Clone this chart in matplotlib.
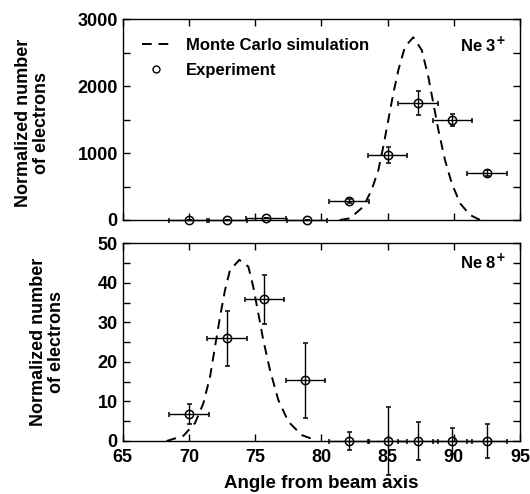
import matplotlib
matplotlib.use("Agg")
import matplotlib.pyplot as plt
from matplotlib.lines import Line2D
from matplotlib.ticker import MultipleLocator

plt.rcParams['font.family'] = ['Liberation Sans', 'DejaVu Sans']
plt.rcParams['font.weight'] = 'bold'

# Ne 3+ : experiment
ne3_angle = [70.0, 72.9, 75.8, 78.9, 82.1, 85.0, 87.3, 89.9, 92.5]
ne3_count = [0, 0, 25, 0, 290, 970, 1750, 1490, 700]
ne3_xerr = [1.5, 1.5, 1.5, 1.5, 1.5, 1.5, 1.5, 1.5, 1.5]
ne3_yerr = [0, 0, 0, 0, 30, 125, 175, 90, 40]

# Ne 3+ : Monte Carlo curve
mc3_angle = [81.4, 82.17, 83.17, 83.8, 84.31, 84.68, 85.06, 85.44, 85.82, 86.32,
             86.95, 87.58, 88.08, 88.46, 88.84, 89.34, 89.85, 90.48, 91.23, 91.99]
mc3_count = [0, 25, 199, 448, 747, 1096, 1495, 1894, 2242, 2591,
             2730, 2541, 2142, 1744, 1345, 897, 548, 249, 75, 0]

# Ne 8+ : experiment
ne8_angle = [70.0, 72.9, 75.7, 78.8, 82.1, 85.0, 87.3, 89.9, 92.5]
ne8_count = [6.8, 26.0, 35.9, 15.3, 0, 0, 0, 0, 0]
ne8_xerr = [1.5, 1.5, 1.5, 1.5, 1.5, 1.5, 1.5, 1.5, 1.5]
ne8_yerr = [2.5, 7.0, 6.2, 9.6, 2.4, 8.5, 4.8, 3.3, 4.2]

# Ne 8+ : Monte Carlo curve
mc8_angle = [68.32, 69.58, 70.46, 71.09, 71.6, 71.97, 72.35, 72.73, 73.1, 73.81,
             74.49, 74.86, 75.24, 75.62, 76.12, 76.75, 77.51, 78.52, 79.65]
mc8_count = [0, 1.3, 4.5, 9.5, 16.3, 23.8, 31.4, 38.2, 43.2, 45.8,
             44.1, 39.0, 32.3, 25.5, 18.0, 10.4, 4.9, 1.5, 0.1]

fig = plt.figure(figsize=(5.3, 4.94), dpi=100)
ax1 = fig.add_axes([0.2315, 0.5547, 0.7495, 0.4063])
ax2 = fig.add_axes([0.2315, 0.1073, 0.7495, 0.4002])

# open circles, error bar lines show through them
ebkw = dict(fmt='o', mfc='none', mec='black', ms=6, mew=1.1, color='black',
            ecolor='black', elinewidth=1.0, capsize=1.8, capthick=1.0, zorder=3)

# top panel: Ne 3+
ax1.plot(mc3_angle, mc3_count, '--', color='black', lw=1.4, dashes=(5, 3.5))
ax1.errorbar(ne3_angle, ne3_count, xerr=ne3_xerr, yerr=ne3_yerr, clip_on=False, **ebkw)
ax1.set_xlim(65, 95)
ax1.set_ylim(0, 3000)
ax1.yaxis.set_major_locator(MultipleLocator(1000))
ax1.yaxis.set_minor_locator(MultipleLocator(500))
ax1.xaxis.set_major_locator(MultipleLocator(5))
ax1.set_xticklabels([])
ax1.text(0.965, 0.872, 'Ne 3$^{+}$', transform=ax1.transAxes, ha='right', va='center',
         fontsize=12, fontweight='bold')

handles = [Line2D([], [], ls='--', color='black', lw=1.4, dashes=(5, 3.5)),
           Line2D([], [], ls='none', marker='o', mfc='white', mec='black', ms=5, mew=1.0)]
ax1.legend(handles, ['Monte Carlo simulation', 'Experiment'], loc='upper left',
           bbox_to_anchor=(0.018, 0.965), frameon=False,
           handlelength=1.7, handletextpad=0.95, borderaxespad=0.3, labelspacing=0.62,
           prop={'weight': 'bold', 'size': 12})

# bottom panel: Ne 8+
ax2.plot(mc8_angle, mc8_count, '--', color='black', lw=1.4, dashes=(5, 3.5))
eb = ax2.errorbar(ne8_angle, ne8_count, xerr=ne8_xerr, yerr=ne8_yerr, **ebkw)
for part in eb.lines[1] + eb.lines[2]:
    part.set_clip_on(False)
eb.lines[0].set_clip_on(False)
ax2.set_xlim(65, 95)
ax2.set_ylim(0, 50)
ax2.yaxis.set_major_locator(MultipleLocator(10))
ax2.yaxis.set_minor_locator(MultipleLocator(5))
ax2.xaxis.set_major_locator(MultipleLocator(5))
ax2.text(0.965, 0.905, 'Ne 8$^{+}$', transform=ax2.transAxes, ha='right', va='center',
         fontsize=12, fontweight='bold')
ax2.set_xlabel('Angle from beam axis', fontsize=13.5, fontweight='bold', labelpad=6)

for ax in (ax1, ax2):
    ax.tick_params(which='both', direction='in', top=True, right=True,
                   labelsize=13, width=1.0, length=5)
    ax.tick_params(axis='x', pad=6)
    for lab in ax.get_xticklabels() + ax.get_yticklabels():
        lab.set_fontweight('bold')
    for s in ax.spines.values():
        s.set_linewidth(1.0)
    ax.set_ylabel('Normalized number\nof electrons', fontsize=13, fontweight='bold',
                  linespacing=1.05)

ax1.yaxis.set_label_coords(-0.183, 0.483)
ax2.yaxis.set_label_coords(-0.145, 0.5)

fig.savefig('out.png', dpi=100)
